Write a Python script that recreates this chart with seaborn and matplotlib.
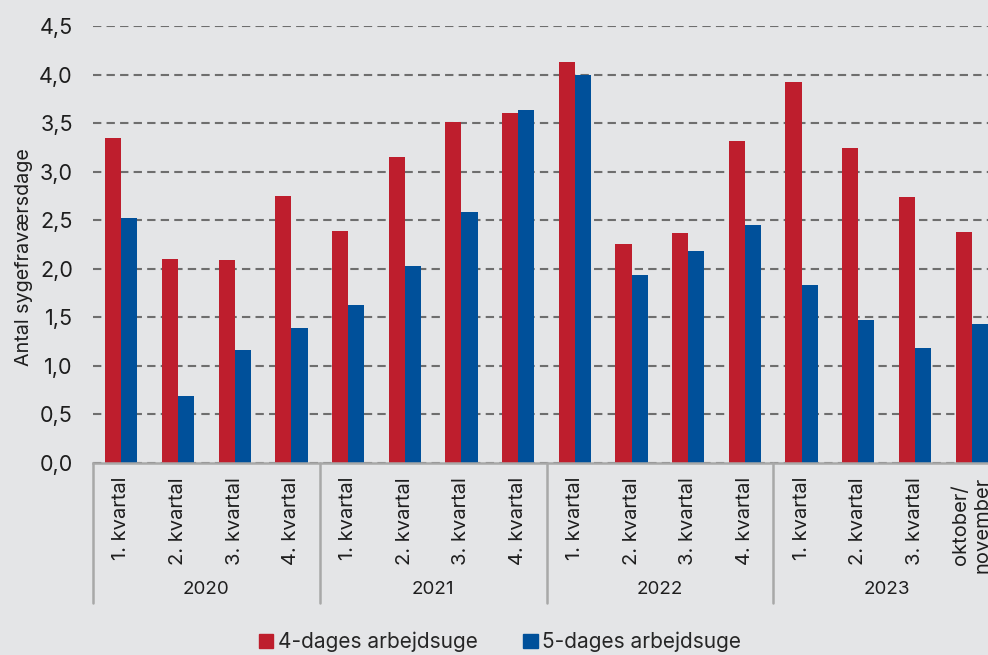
import matplotlib
matplotlib.use("Agg")
import matplotlib.pyplot as plt
import matplotlib.transforms as mtransforms
import seaborn as sns
import pandas as pd

years = ["2020", "2021", "2022", "2023"]
quarter_labels = ["1. kvartal", "2. kvartal", "3. kvartal", "4. kvartal",
                  "1. kvartal", "2. kvartal", "3. kvartal", "4. kvartal",
                  "1. kvartal", "2. kvartal", "3. kvartal", "4. kvartal",
                  "1. kvartal", "2. kvartal", "3. kvartal", "oktober/\nnovember"]
series_names = ["4-dages arbejdsuge", "5-dages arbejdsuge"]
four_day = [3.35, 2.10, 2.09, 2.75, 2.39, 3.15, 3.51, 3.60,
            4.13, 2.26, 2.37, 3.32, 3.92, 3.24, 2.74, 2.38]
five_day = [2.52, 0.69, 1.16, 1.39, 1.63, 2.03, 2.58, 3.64,
            4.00, 1.94, 2.18, 2.45, 1.83, 1.47, 1.18, 1.43]
colors = ["#BE1E2D", "#00509A"]

sns.set_style("white")
plt.rcParams["font.family"] = ["Inter", "DejaVu Sans"]

cat_ids = [f"{years[i // 4]}-{i % 4}" for i in range(len(quarter_labels))]
df = pd.DataFrame({
    "kat": cat_ids * 2,
    "værdi": four_day + five_day,
    "serie": [series_names[0]] * len(four_day) + [series_names[1]] * len(five_day),
})

bg = "#E4E5E7"
txt = "#1E1E1E"
fig = plt.figure(figsize=(9.88, 6.55), dpi=100, facecolor=bg)
ax = fig.add_axes([93 / 988, 1 - 463 / 655, 907 / 988, 437 / 655])
ax.set_facecolor(bg)

sns.barplot(data=df, x="kat", y="værdi", hue="serie", order=cat_ids,
            hue_order=series_names, palette=colors, saturation=1,
            width=0.57, linewidth=0, ax=ax, legend=False)

ax.set_ylim(0, 4.5)
ax.set_xlim(-0.5, len(cat_ids) - 0.5)
ax.set_yticks([i * 0.5 for i in range(10)])
ax.set_yticklabels([f"{i * 0.5:.1f}".replace(".", ",") for i in range(10)], fontsize=15.5, color=txt)
ax.yaxis.grid(True, color="#6E6E6E", linestyle=(0, (4, 2.5)), linewidth=1.5)
ax.set_axisbelow(True)
for s in ["top", "right", "left"]:
    ax.spines[s].set_visible(False)
ax.spines["bottom"].set_color("#A8A8A8")
ax.spines["bottom"].set_linewidth(1.8)
ax.tick_params(axis="y", length=0, pad=14.5)
ax.tick_params(axis="x", length=0, pad=10)
ax.set_xticks(range(len(cat_ids)))
ax.set_xticklabels(quarter_labels, rotation=90, fontsize=14.5, color=txt,
                   va="top", ha="center", linespacing=1.25)
ax.set_xlabel("")
ax.set_ylabel("Antal sygefraværsdage", fontsize=14.2, color=txt)
ax.yaxis.set_label_coords((33 - 93) / 907, (463 - 257.5) / 437)

trans = mtransforms.blended_transform_factory(ax.transData, ax.transAxes)
for b in [-0.5, 3.5, 7.5, 11.5, 15.5]:
    ax.plot([b, b], [0, -140 / 437], transform=trans, color="#A8A8A8",
            lw=1.8, clip_on=False)
for i, y in enumerate(years):
    ax.text(4 * i + 1.5, -127 / 437, y, transform=trans, ha="center",
            va="center", fontsize=13.5, color=txt)

handles = [plt.Rectangle((0, 0), 1, 1, color=c) for c in colors]
fig.legend(handles, series_names, loc="center", bbox_to_anchor=(500 / 988, 1 - 642 / 655),
           ncol=2, frameon=False, fontsize=15, handlelength=0.7, handleheight=0.7,
           handletextpad=0.2, columnspacing=2.2)

fig.savefig("out.png", dpi=100, facecolor=bg)
